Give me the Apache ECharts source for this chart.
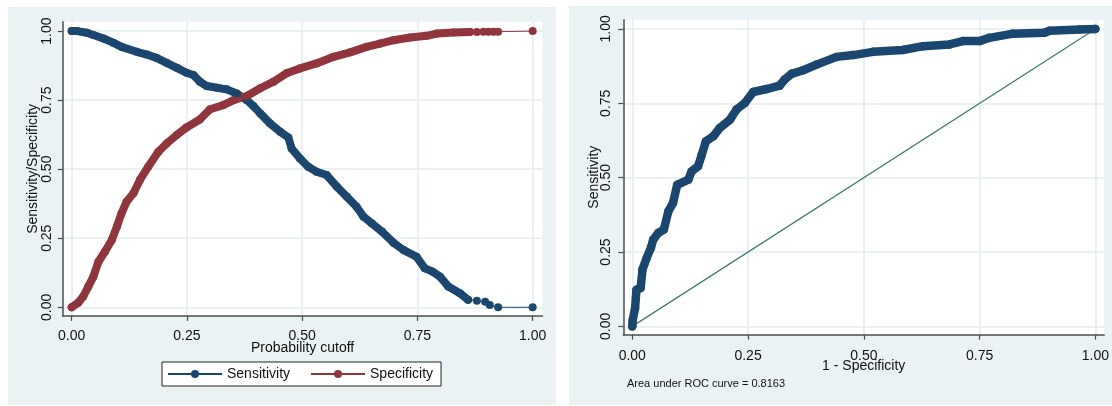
<!DOCTYPE html>
<html><head><meta charset="utf-8">
<script src="https://cdn.jsdelivr.net/npm/echarts@6/dist/echarts.min.js"></script>
<style>html,body{margin:0;padding:0;background:#fff}#c{width:1112px;height:406px}</style>
</head><body><div id="c"></div>
<script>
// ---- data ----
const tickValues = [0, 0.25, 0.5, 0.75, 1];

const sensCutoff = [0, 0.012, 0.033, 0.047, 0.069, 0.090, 0.108, 0.141, 0.163, 0.184, 0.206, 0.228, 0.249, 0.264, 0.278, 0.293, 0.315, 0.336, 0.358, 0.380, 0.394, 0.409, 0.430, 0.452, 0.470, 0.477, 0.495, 0.513, 0.531, 0.553, 0.575, 0.597, 0.618, 0.633, 0.651, 0.673, 0.698, 0.720, 0.748, 0.766, 0.782, 0.799, 0.817, 0.842, 0.860, 0.879, 0.897, 0.907, 0.925, 1.0];
const sensValue  = [1.0, 1.0, 0.994, 0.986, 0.973, 0.958, 0.943, 0.925, 0.915, 0.903, 0.885, 0.867, 0.849, 0.841, 0.817, 0.801, 0.795, 0.789, 0.774, 0.750, 0.729, 0.702, 0.666, 0.636, 0.615, 0.575, 0.539, 0.509, 0.491, 0.479, 0.437, 0.400, 0.364, 0.328, 0.304, 0.274, 0.234, 0.207, 0.183, 0.141, 0.130, 0.111, 0.075, 0.051, 0.027, 0.024, 0.020, 0.008, 0.0, 0.0];

const specCutoff = [0, 0.0145, 0.025, 0.036, 0.047, 0.058, 0.072, 0.087, 0.098, 0.108, 0.119, 0.134, 0.148, 0.166, 0.188, 0.206, 0.228, 0.249, 0.278, 0.300, 0.329, 0.351, 0.380, 0.409, 0.438, 0.466, 0.495, 0.531, 0.568, 0.604, 0.640, 0.669, 0.698, 0.734, 0.770, 0.792, 0.828, 0.864, 0.879, 0.893, 0.904, 0.915, 0.925, 1.0];
const specValue  = [0, 0.017, 0.039, 0.075, 0.111, 0.165, 0.201, 0.244, 0.292, 0.340, 0.382, 0.413, 0.461, 0.509, 0.563, 0.593, 0.624, 0.651, 0.680, 0.717, 0.732, 0.750, 0.765, 0.793, 0.817, 0.847, 0.865, 0.883, 0.907, 0.923, 0.943, 0.955, 0.967, 0.977, 0.983, 0.991, 0.995, 0.997, 0.997, 0.998, 0.998, 0.998, 0.998, 1.0];

const rocFpr = [0, 0.001, 0.006, 0.009, 0.018, 0.022, 0.031, 0.040, 0.045, 0.056, 0.068, 0.078, 0.088, 0.097, 0.121, 0.128, 0.142, 0.149, 0.159, 0.175, 0.189, 0.211, 0.225, 0.243, 0.261, 0.290, 0.318, 0.329, 0.344, 0.369, 0.398, 0.441, 0.477, 0.520, 0.584, 0.628, 0.685, 0.714, 0.750, 0.771, 0.822, 0.890, 0.901, 0.966, 1.0];
const rocTpr = [0, 0.022, 0.061, 0.123, 0.129, 0.191, 0.230, 0.263, 0.291, 0.314, 0.325, 0.387, 0.415, 0.476, 0.493, 0.521, 0.538, 0.572, 0.622, 0.639, 0.667, 0.695, 0.729, 0.751, 0.788, 0.798, 0.809, 0.830, 0.849, 0.861, 0.880, 0.906, 0.912, 0.923, 0.929, 0.942, 0.948, 0.959, 0.959, 0.970, 0.984, 0.987, 0.994, 0.998, 1.0];

const refLine = [[0, 0], [1, 1]];
const aucText = 'Area under ROC curve = 0.8163';
const leftXName = 'Probability cutoff';
const leftYName = 'Sensitivity/Specificity';
const rightXName = '1 - Specificity';
const rightYName = 'Sensitivity';

// ---- chart ----
const NAVY = '#1A476F', MAROON = '#90353B', REF = '#3B7D6A';
const BG = '#EAF2F3', GRIDC = '#E4EDEF', AXC = '#4D4D4D', TXT = '#111';
const FONT = "'Liberation Sans', Arial, sans-serif";
const bandLimit = 0.87;

const pairs = (xs, ys) => xs.map((x, i) => [x, ys[i]]);
const sensPts = pairs(sensCutoff, sensValue);
const specPts = pairs(specCutoff, specValue);
const rocPts = pairs(rocFpr, rocTpr);

function xAxis(gi, min, max, name, labelMargin, nameGap) {
  return {
    gridIndex: gi, type: 'value', min: min, max: max,
    name: name, nameLocation: 'middle', nameGap: nameGap, nameMoveOverlap: false,
    nameTextStyle: { fontSize: 14, color: TXT, fontFamily: FONT },
    axisLine: { show: true, onZero: false, lineStyle: { color: AXC, width: 1.5 } },
    axisTick: { show: true, length: 5, customValues: tickValues, lineStyle: { color: AXC, width: 1.2 } },
    axisLabel: { customValues: tickValues, margin: labelMargin, fontSize: 14, color: TXT, fontFamily: FONT,
      formatter: v => v.toFixed(2) },
    splitLine: { show: true, lineStyle: { color: GRIDC, width: 1.5 } }
  };
}
function yAxis(gi, min, max, name, labelMargin, nameGap) {
  return {
    gridIndex: gi, type: 'value', min: min, max: max,
    name: name, nameLocation: 'middle', nameGap: nameGap, nameMoveOverlap: false,
    nameTextStyle: { fontSize: 14, color: TXT, fontFamily: FONT },
    axisLine: { show: true, onZero: false, lineStyle: { color: AXC, width: 1.5 } },
    axisTick: { show: true, length: 5, customValues: tickValues, lineStyle: { color: AXC, width: 1.2 } },
    axisLabel: { customValues: tickValues, rotate: 90, margin: labelMargin, fontSize: 14, color: TXT, fontFamily: FONT,
      formatter: v => v.toFixed(2) },
    splitLine: { show: true, lineStyle: { color: GRIDC, width: 1.5 } }
  };
}

function band(name, pts, color, xi, width) {
  return { name: name, type: 'line', xAxisIndex: xi, yAxisIndex: xi, data: pts,
    symbol: 'none', silent: true, animation: false,
    lineStyle: { color: color, width: width, cap: 'round', join: 'round' }, z: 2 };
}
function marks(name, pts, color, xi, size) {
  return { name: name, type: 'line', xAxisIndex: xi, yAxisIndex: xi, data: pts,
    symbol: 'circle', symbolSize: size, showAllSymbol: true, animation: false,
    itemStyle: { color: color, borderWidth: 0 },
    lineStyle: { color: color, width: 1 }, z: 3 };
}

const option = {
  animation: false,
  backgroundColor: '#fff',
  textStyle: { fontFamily: FONT },
  graphic: [
    { type: 'rect', shape: { x: 8, y: 7, width: 548, height: 398 }, style: { fill: BG }, z: -10, silent: true },
    { type: 'rect', shape: { x: 569, y: 6, width: 543, height: 399 }, style: { fill: BG }, z: -10, silent: true },
    { type: 'text', x: 627, y: 384, style: { text: aucText, fontSize: 11, fill: TXT, fontFamily: FONT, textVerticalAlign: 'middle' }, z: 10 }
  ],
  grid: [
    { left: 62.7, top: 21.7, width: 479.8, height: 294.3, show: true, backgroundColor: '#fff', borderWidth: 0 },
    { left: 623.3, top: 19.7, width: 481.7, height: 315, show: true, backgroundColor: '#fff', borderWidth: 0 }
  ],
  xAxis: [
    xAxis(0, -0.0195, 1.0213, leftXName, 13, 25),
    xAxis(1, -0.0194, 1.019, rightXName, 14, 24)
  ],
  yAxis: [
    yAxis(0, -0.0315, 1.034, leftYName, 9, 23),
    yAxis(1, -0.028, 1.031, rightYName, 10, 22)
  ],
  legend: {
    left: 162, top: 362, orient: 'horizontal',
    data: ['Sensitivity', 'Specificity'],
    itemWidth: 54, itemHeight: 10, itemGap: 20,
    padding: [5, 8, 5, 5], borderColor: '#222', borderWidth: 1, backgroundColor: '#fff',
    textStyle: { fontSize: 14, color: TXT, fontFamily: FONT },
    selectedMode: false
  },
  series: [
    band('sensBand', sensPts.filter(p => p[0] <= bandLimit), NAVY, 0, 8),
    marks('Sensitivity', sensPts, NAVY, 0, 8),
    band('specBand', specPts.filter(p => p[0] <= bandLimit), MAROON, 0, 8),
    marks('Specificity', specPts, MAROON, 0, 8),
    { name: 'ref', type: 'line', xAxisIndex: 1, yAxisIndex: 1, data: refLine, symbol: 'none',
      lineStyle: { color: REF, width: 1.2 }, z: 2 },
    band('rocBand', rocPts, NAVY, 1, 8.5),
    marks('roc', rocPts, NAVY, 1, 8.5)
  ]
};
const chart = echarts.init(document.getElementById('c'), null, { renderer: 'canvas' });
chart.setOption(option);
</script></body></html>
